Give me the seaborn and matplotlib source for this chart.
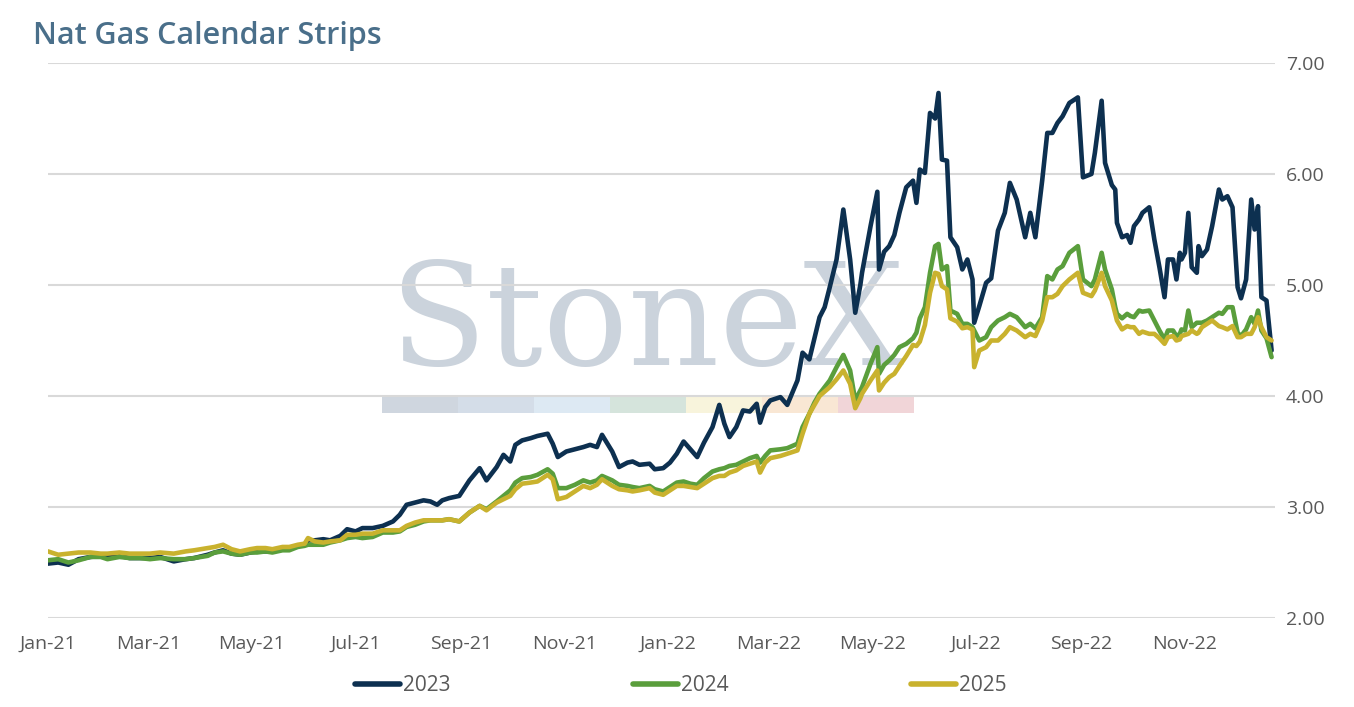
import pandas as pd
import numpy as np
import matplotlib
matplotlib.use("Agg")
import matplotlib.pyplot as plt
import matplotlib.dates as mdates
from matplotlib.patches import Rectangle
import seaborn as sns

# data (settle dates and strip prices)
dates = [
    "2021-01-01", "2021-01-07", "2021-01-13", "2021-01-19", "2021-01-26", "2021-02-01",
    "2021-02-05", "2021-02-12", "2021-02-18", "2021-02-24", "2021-03-02", "2021-03-08",
    "2021-03-16", "2021-03-23", "2021-03-28", "2021-04-05", "2021-04-09", "2021-04-14",
    "2021-04-19", "2021-04-24", "2021-04-30", "2021-05-04", "2021-05-09", "2021-05-13",
    "2021-05-19", "2021-05-23", "2021-05-28", "2021-06-01", "2021-06-03", "2021-06-07",
    "2021-06-12", "2021-06-16", "2021-06-22", "2021-06-26", "2021-07-01", "2021-07-05",
    "2021-07-11", "2021-07-17", "2021-07-23", "2021-07-27", "2021-07-31", "2021-08-05",
    "2021-08-10", "2021-08-14", "2021-08-18", "2021-08-21", "2021-08-25", "2021-08-31",
    "2021-09-06", "2021-09-12", "2021-09-16", "2021-09-22", "2021-09-26", "2021-09-30",
    "2021-10-03", "2021-10-07", "2021-10-12", "2021-10-16", "2021-10-22", "2021-10-25",
    "2021-10-28", "2021-11-02", "2021-11-07", "2021-11-12", "2021-11-16", "2021-11-20",
    "2021-11-23", "2021-11-29", "2021-12-03", "2021-12-08", "2021-12-11", "2021-12-15",
    "2021-12-21", "2021-12-24", "2021-12-29", "2022-01-02", "2022-01-06", "2022-01-10",
    "2022-01-14", "2022-01-18", "2022-01-22", "2022-01-27", "2022-01-31", "2022-02-03",
    "2022-02-06", "2022-02-10", "2022-02-14", "2022-02-18", "2022-02-22", "2022-02-24",
    "2022-02-27", "2022-03-02", "2022-03-08", "2022-03-12", "2022-03-18", "2022-03-21",
    "2022-03-25", "2022-03-28", "2022-03-31", "2022-04-03", "2022-04-06", "2022-04-10",
    "2022-04-14", "2022-04-18", "2022-04-21", "2022-04-24", "2022-04-25", "2022-04-30",
    "2022-05-04", "2022-05-05", "2022-05-08", "2022-05-11", "2022-05-14", "2022-05-17",
    "2022-05-21", "2022-05-25", "2022-05-27", "2022-05-29", "2022-06-01", "2022-06-04",
    "2022-06-07", "2022-06-09", "2022-06-11", "2022-06-14", "2022-06-16", "2022-06-20",
    "2022-06-23", "2022-06-26", "2022-06-29", "2022-06-30", "2022-07-03", "2022-07-07",
    "2022-07-10", "2022-07-14", "2022-07-18", "2022-07-21", "2022-07-25", "2022-07-30",
    "2022-08-02", "2022-08-05", "2022-08-09", "2022-08-12", "2022-08-15", "2022-08-18",
    "2022-08-21", "2022-08-25", "2022-08-30", "2022-09-02", "2022-09-07", "2022-09-09",
    "2022-09-13", "2022-09-15", "2022-09-19", "2022-09-21", "2022-09-22", "2022-09-25",
    "2022-09-28", "2022-09-30", "2022-10-02", "2022-10-05", "2022-10-07", "2022-10-11",
    "2022-10-14", "2022-10-17", "2022-10-20", "2022-10-22", "2022-10-25", "2022-10-27",
    "2022-10-29", "2022-10-30", "2022-11-01", "2022-11-03", "2022-11-05", "2022-11-08",
    "2022-11-09", "2022-11-11", "2022-11-14", "2022-11-17", "2022-11-21", "2022-11-23",
    "2022-11-26", "2022-11-29", "2022-12-02", "2022-12-04", "2022-12-07", "2022-12-10",
    "2022-12-12", "2022-12-14", "2022-12-16", "2022-12-19", "2022-12-22",
]

strip_2023 = [
    2.49, 2.50, 2.48, 2.53, 2.55, 2.56, 2.55, 2.56, 2.54, 2.54, 2.54, 2.55,
    2.51, 2.53, 2.54, 2.57, 2.59, 2.61, 2.58, 2.57, 2.59, 2.60, 2.60, 2.60,
    2.62, 2.62, 2.65, 2.66, 2.70, 2.70, 2.71, 2.70, 2.74, 2.80, 2.78, 2.81,
    2.81, 2.83, 2.87, 2.93, 3.02, 3.04, 3.06, 3.05, 3.02, 3.06, 3.08, 3.10,
    3.24, 3.35, 3.24, 3.36, 3.47, 3.41, 3.56, 3.60, 3.62, 3.64, 3.66, 3.57,
    3.45, 3.50, 3.52, 3.54, 3.56, 3.54, 3.65, 3.50, 3.36, 3.40, 3.41, 3.38,
    3.39, 3.34, 3.35, 3.40, 3.48, 3.59, 3.52, 3.45, 3.58, 3.72, 3.92, 3.75,
    3.63, 3.72, 3.87, 3.86, 3.93, 3.76, 3.90, 3.96, 3.99, 3.92, 4.14, 4.39,
    4.33, 4.52, 4.71, 4.80, 4.98, 5.23, 5.68, 5.23, 4.75, 5.00, 5.11, 5.53,
    5.84, 5.14, 5.30, 5.35, 5.45, 5.65, 5.88, 5.94, 5.74, 6.04, 6.01, 6.55,
    6.50, 6.73, 6.13, 6.12, 5.43, 5.34, 5.14, 5.23, 5.05, 4.66, 4.81, 5.02,
    5.06, 5.49, 5.65, 5.92, 5.77, 5.43, 5.65, 5.43, 5.94, 6.37, 6.37, 6.46,
    6.52, 6.64, 6.69, 5.97, 6.00, 6.19, 6.66, 6.10, 5.90, 5.86, 5.56, 5.43,
    5.45, 5.38, 5.53, 5.59, 5.65, 5.70, 5.41, 5.16, 4.89, 5.23, 5.23, 5.05,
    5.29, 5.23, 5.29, 5.65, 5.16, 5.11, 5.35, 5.26, 5.32, 5.53, 5.86, 5.77,
    5.80, 5.70, 4.98, 4.88, 5.05, 5.77, 5.50, 5.71, 4.89, 4.86, 4.41,
]

strip_2024 = [
    2.52, 2.53, 2.50, 2.52, 2.55, 2.55, 2.53, 2.55, 2.54, 2.54, 2.53, 2.54,
    2.53, 2.53, 2.54, 2.56, 2.59, 2.60, 2.58, 2.57, 2.59, 2.59, 2.60, 2.59,
    2.61, 2.61, 2.64, 2.65, 2.66, 2.66, 2.66, 2.68, 2.70, 2.72, 2.73, 2.72,
    2.73, 2.77, 2.77, 2.78, 2.82, 2.84, 2.87, 2.88, 2.88, 2.88, 2.89, 2.87,
    2.95, 3.01, 2.98, 3.05, 3.10, 3.15, 3.22, 3.26, 3.27, 3.29, 3.34, 3.30,
    3.17, 3.17, 3.20, 3.24, 3.22, 3.24, 3.28, 3.24, 3.20, 3.19, 3.18, 3.17,
    3.19, 3.16, 3.14, 3.18, 3.22, 3.23, 3.21, 3.20, 3.26, 3.32, 3.34, 3.35,
    3.37, 3.38, 3.41, 3.44, 3.46, 3.40, 3.46, 3.51, 3.52, 3.53, 3.57, 3.72,
    3.84, 3.94, 4.02, 4.08, 4.14, 4.26, 4.37, 4.23, 3.96, 4.05, 4.08, 4.29,
    4.44, 4.20, 4.28, 4.32, 4.37, 4.44, 4.47, 4.52, 4.57, 4.70, 4.80, 5.11,
    5.35, 5.37, 5.14, 5.17, 4.77, 4.74, 4.65, 4.65, 4.62, 4.59, 4.50, 4.53,
    4.62, 4.68, 4.71, 4.74, 4.71, 4.62, 4.65, 4.61, 4.71, 5.08, 5.05, 5.14,
    5.17, 5.29, 5.35, 5.05, 4.99, 5.05, 5.29, 5.14, 4.96, 4.80, 4.74, 4.70,
    4.74, 4.72, 4.71, 4.77, 4.76, 4.77, 4.68, 4.59, 4.51, 4.59, 4.59, 4.54,
    4.56, 4.60, 4.59, 4.77, 4.62, 4.66, 4.66, 4.66, 4.68, 4.71, 4.75, 4.74,
    4.80, 4.80, 4.57, 4.54, 4.60, 4.71, 4.65, 4.77, 4.59, 4.52, 4.35,
]

strip_2025 = [
    2.60, 2.57, 2.58, 2.59, 2.59, 2.58, 2.58, 2.59, 2.58, 2.58, 2.58, 2.59,
    2.58, 2.60, 2.61, 2.63, 2.64, 2.66, 2.62, 2.60, 2.62, 2.63, 2.63, 2.62,
    2.64, 2.64, 2.66, 2.67, 2.72, 2.69, 2.68, 2.69, 2.70, 2.75, 2.75, 2.76,
    2.76, 2.79, 2.79, 2.79, 2.83, 2.86, 2.88, 2.88, 2.88, 2.88, 2.89, 2.87,
    2.95, 3.01, 2.97, 3.04, 3.07, 3.10, 3.16, 3.21, 3.22, 3.23, 3.29, 3.25,
    3.07, 3.09, 3.14, 3.19, 3.17, 3.20, 3.25, 3.19, 3.16, 3.15, 3.14, 3.15,
    3.17, 3.13, 3.11, 3.15, 3.19, 3.19, 3.18, 3.17, 3.21, 3.26, 3.28, 3.28,
    3.31, 3.33, 3.37, 3.39, 3.41, 3.31, 3.40, 3.44, 3.46, 3.48, 3.51, 3.66,
    3.84, 3.92, 4.00, 4.04, 4.08, 4.15, 4.23, 4.11, 3.89, 3.98, 4.02, 4.14,
    4.23, 4.05, 4.12, 4.17, 4.20, 4.27, 4.36, 4.46, 4.45, 4.49, 4.64, 4.93,
    5.11, 5.10, 4.99, 4.96, 4.70, 4.67, 4.61, 4.62, 4.60, 4.26, 4.41, 4.44,
    4.50, 4.50, 4.56, 4.62, 4.59, 4.53, 4.56, 4.54, 4.68, 4.89, 4.89, 4.92,
    4.99, 5.05, 5.11, 4.93, 4.90, 4.95, 5.11, 4.99, 4.86, 4.74, 4.68, 4.60,
    4.63, 4.62, 4.62, 4.56, 4.58, 4.56, 4.56, 4.52, 4.47, 4.53, 4.54, 4.50,
    4.51, 4.54, 4.55, 4.56, 4.59, 4.56, 4.57, 4.62, 4.65, 4.68, 4.63, 4.62,
    4.60, 4.63, 4.53, 4.53, 4.56, 4.56, 4.62, 4.71, 4.62, 4.53, 4.50,
]

series_names = ["2023", "2024", "2025"]
series_colors = ["#0d3050", "#5a9e3c", "#c9b22e"]

df = pd.DataFrame({
    "date": pd.to_datetime(dates),
    "2023": strip_2023,
    "2024": strip_2024,
    "2025": strip_2025,
})
long_df = df.melt(id_vars="date", var_name="strip", value_name="price")

sns.set_style("white")
plt.rcParams["font.family"] = ["Open Sans", "DejaVu Sans"]

fig = plt.figure(figsize=(13.54, 7.07), dpi=100)
ax = fig.add_axes([48 / 1354, 1 - 618 / 707, 1227 / 1354, 555 / 707])

# watermark behind the lines
ax.text(0.488, 0.456, "StoneX", transform=ax.transAxes, ha="center", va="baseline",
        fontsize=102, family="DejaVu Serif", color="#cbd3dc", zorder=0)
band_colors = ["#cfd6df", "#d4dde8", "#dde9f3", "#d5e4dc", "#f8f4dc", "#f9e7d4", "#f1d5d8"]
for i, c in enumerate(band_colors):
    ax.add_patch(Rectangle((0.272 + i * 0.062, 0.369), 0.062, 0.029,
                           transform=ax.transAxes, color=c, lw=0, zorder=0))

sns.lineplot(data=long_df, x="date", y="price", hue="strip", hue_order=series_names,
             palette=series_colors, linewidth=3.3, ax=ax, zorder=3)

ax.set_xlim(pd.Timestamp("2021-01-01"), pd.Timestamp("2022-12-24"))
ax.set_ylim(2, 7)
ax.set_yticks(np.arange(2, 7.01, 1))
ax.yaxis.tick_right()
ax.yaxis.set_major_formatter(matplotlib.ticker.FormatStrFormatter("%.2f"))
ax.xaxis.set_major_locator(mdates.MonthLocator(bymonth=[1, 3, 5, 7, 9, 11]))
ax.xaxis.set_major_formatter(mdates.DateFormatter("%b-%y"))
ax.grid(axis="y", color="#d9d9d9", linewidth=1.5, zorder=1)
ax.grid(axis="x", visible=False)
for s in ax.spines.values():
    s.set_visible(False)
ax.tick_params(axis="both", length=0, labelsize=14, colors="#595959")
ax.tick_params(axis="x", pad=12)
ax.tick_params(axis="y", pad=8)
ax.set_xlabel("")
ax.set_ylabel("")

fig.text(33 / 1354, 1 - 36 / 707, "Nat Gas Calendar Strips", fontsize=22, fontweight="semibold",
         color="#4a6f8a", va="center", ha="left")

leg = ax.legend(loc="center", bbox_to_anchor=(0.516, -0.122), ncol=3, frameon=False,
                fontsize=15, handlelength=2.16, handletextpad=0.15, columnspacing=8.75,
                labelcolor="#595959")
for line in leg.get_lines():
    line.set_linewidth(4)
    line.set_solid_capstyle("round")

fig.savefig("out.png", dpi=100)
